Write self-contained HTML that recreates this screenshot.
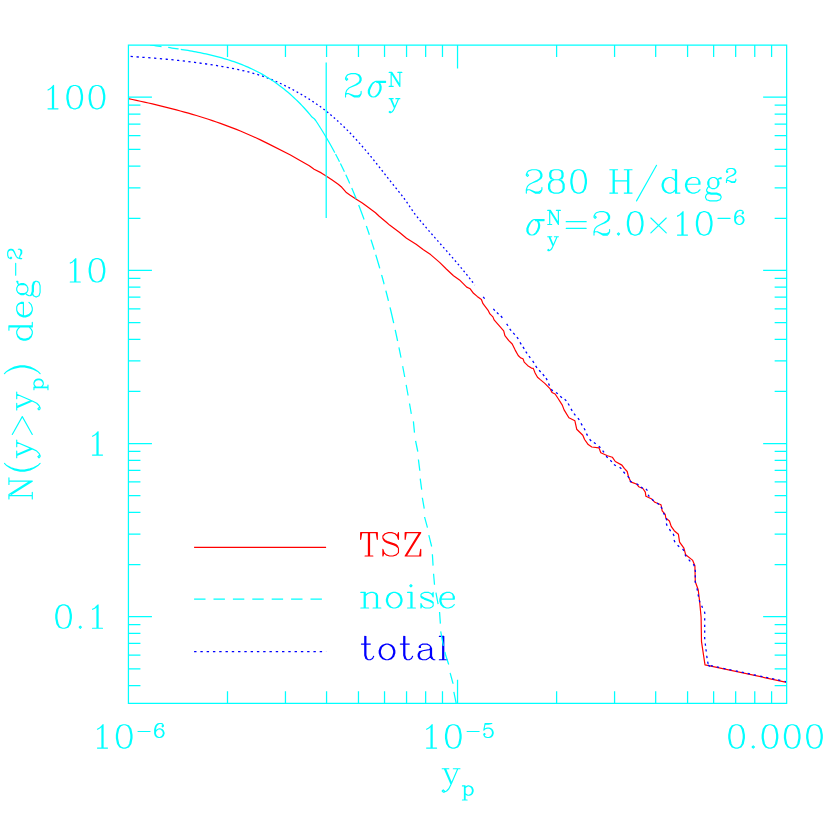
<!DOCTYPE html><html><head><meta charset="utf-8"><title>N(y&gt;yp)</title><style>html,body{margin:0;padding:0;background:#fff;overflow:hidden;width:830px;height:830px;font-family:"Liberation Sans",sans-serif}svg{display:block}</style></head><body>
<svg width="830" height="830" viewBox="0 0 830 830" fill="none" stroke-linecap="round" stroke-linejoin="round">
<rect x="0" y="0" width="830" height="830" fill="#fff" stroke="none"/>
<clipPath id="c"><rect x="128.43" y="45.1" width="658.22" height="658.1999999999999"/></clipPath>
<g clip-path="url(#c)" stroke-linecap="butt">
<path d="M128.4 98.61 L132.4 99.47 L136.4 100.35 L140.4 101.23 L144.4 102.12 L148.4 103.03 L152.4 103.95 L156.4 104.89 L160.4 105.85 L164.4 106.83 L168.4 107.83 L172.4 108.85 L176.4 109.9 L180.4 110.97 L184.4 112.07 L188.4 113.19 L192.4 114.35 L196.4 115.54 L200.4 116.76 L204.4 118.01 L208.4 119.3 L212.4 120.62 L216.4 121.99 L220.4 123.39 L224.4 124.83 L228.4 126.32 L232.4 127.85 L236.4 129.43 L240.4 131.05 L244.4 132.72 L248.4 134.44 L252.4 136.21 L256.4 138.04 L260.4 139.91 L264.4 141.85 L268 143.64 L290 154.8 L299.6 160.2 L309.3 165.7 L314.1 169.3 L321.3 172.9 L326.1 175.9 L332.2 180.1 L338.2 184.3 L341.8 187.3 L346 192.2 L350.2 195.2 L356.3 199.2 L362.3 203 L367.1 206.6 L375.5 212.7 L379.2 216.3 L386.4 222.3 L389.6 225.1 L399.3 232.3 L406.5 238.3 L416.1 244.3 L423.4 249.8 L430.6 254.6 L439.6 262.4 L446.3 269 L453.5 275.7 L459.5 279.9 L466.7 287.1 L470.2 288.8 L473.5 293.3 L477.2 296.4 L481.4 299.5 L483 303.7 L488.1 310.3 L489.9 313.9 L492.9 316.9 L494.1 319.9 L498.9 325.4 L503.7 330.8 L504.9 335.6 L508.6 340.4 L512.2 344 L515.2 350.1 L518.2 355.5 L520.6 357.9 L523 358.7 L524.2 362.1 L527.8 365.7 L531.4 368.1 L533.3 368.4 L535.1 373 L537.5 377.2 L540 379.4 L544.8 383.4 L550.2 388.9 L552 392.5 L555.1 394 L558.1 398.5 L562.3 405.1 L564.1 409.9 L568.9 417.8 L574.9 420.8 L576.7 429.2 L582.8 435.2 L584.6 439.5 L588.2 444.6 L591.8 447 L599 447.9 L600.8 452.7 L607.5 455.7 L612.3 457.2 L615.3 461.5 L621.9 465.1 L624.3 468.4 L627.2 471.5 L628.4 476.4 L630.8 481.9 L636.9 484.3 L638.7 486.7 L642.9 488.5 L645.3 492.1 L645.9 496.3 L651.3 498.7 L654.9 502.3 L661 504.8 L662.2 510.8 L665.2 514.4 L665.8 518 L669.4 521 L671.2 526.4 L674.2 530.7 L678.4 534.3 L679.6 542.1 L683.9 548.1 L685.7 554.8 L692.5 560.1 L694.9 565.8 L695.3 581.7 L698.2 589.7 L699.6 601.3 L701.1 617.2 L701.5 641.7 L705 664.9 L786.6 682.3" stroke="#ff0000" stroke-width="1.2" stroke-linejoin="round"/><path d="M130.6 56.46 L132.9 56.61M136.49 56.86 L138.6 57 L138.79 57.01M142.37 57.27 L142.6 57.29 L144.65 57.44M148.22 57.71 L150.5 57.88M154.05 58.17 L154.6 58.21 L156.32 58.35M159.86 58.65 L162.11 58.85M165.63 59.17 L166.6 59.26 L167.87 59.38M171.37 59.72 L173.6 59.94M177.08 60.3 L178.6 60.46 L179.3 60.53M182.76 60.91 L184.96 61.16M188.39 61.57 L190.58 61.83M193.99 62.26 L194.6 62.33 L196.16 62.54M199.55 62.99 L201.7 63.29M205.07 63.76 L206.6 63.99 L207.2 64.08M210.54 64.58 L210.6 64.59 L212.66 64.91M215.97 65.44 L218.07 65.79M221.35 66.35 L222.6 66.56 L223.44 66.71M226.69 67.3 L228.76 67.68M231.98 68.3 L234.03 68.7M237.21 69.36 L238.6 69.65 L239.23 69.79M242.37 70.49 L242.6 70.54 L244.35 70.96M247.43 71.71 L249.38 72.22M252.4 73.03 L254.32 73.57M257.27 74.46 L258.6 74.86 L259.14 75.04M262.04 75.98 L262.6 76.17 L263.85 76.62M266.68 77.63 L268.45 78.31M271.21 79.39 L272.94 80.11M275.63 81.26 L277.32 82.02M279.96 83.22 L281.63 84M284.21 85.26 L285.85 86.07M288.4 87.36 L290.02 88.19M292.53 89.52 L294.13 90.37M296.61 91.73 L298.18 92.61M300.63 94 L302.19 94.89M304.6 96.32 L306.13 97.24M308.5 98.71 L310 99.66M312.33 101.17 L313.81 102.14M316.09 103.7 L317.54 104.7M319.78 106.3 L321.2 107.33M323.4 108.97 L324.78 110.04M326.93 111.73 L328.28 112.83M330.4 114.55 L330.6 114.72 L331.72 115.68M333.78 117.46 L334.6 118.16 L335.09 118.6M337.11 120.42 L338.39 121.59M340.37 123.45 L341.63 124.64M343.59 126.52 L344.82 127.73M346.76 129.64 L347.97 130.88M349.87 132.82 L350.6 133.57 L351.07 134.07M352.93 136.05 L354.12 137.31M355.96 139.31 L357.13 140.59M358.96 142.6 L360.11 143.9M361.91 145.94 L362.6 146.73 L363.05 147.25M364.82 149.32 L365.95 150.64M367.71 152.72 L368.82 154.06M370.57 156.15 L370.6 156.19 L371.67 157.5M373.39 159.62 L374.48 160.98M376.18 163.12 L377.27 164.48M378.96 166.63 L380.04 168M381.73 170.15 L382.6 171.26 L382.8 171.53M384.49 173.68 L385.56 175.05M387.25 177.21 L388.33 178.58M390.03 180.72 L390.6 181.45 L391.11 182.09M392.82 184.22 L393.91 185.58M395.63 187.7 L396.73 189.05M398.46 191.16 L398.6 191.34 L399.54 192.53M401.24 194.67 L402.32 196.04M403.95 198.25 L404.99 199.66M406.61 201.88 L407.59 203.35M409.12 205.66 L410.1 207.13M411.66 209.41 L412.66 210.86M414.23 213.12 L414.6 213.65 L415.29 214.52M416.99 216.66 L418.07 218.02M419.81 220.13 L420.93 221.46M422.69 223.54 L423.82 224.86M425.59 226.93 L426.6 228.12 L426.72 228.25M428.5 230.31 L429.63 231.63M431.42 233.68 L432.56 234.99M434.35 237.04 L434.6 237.32 L435.5 238.34M437.29 240.39 L438.44 241.69M440.24 243.73 L441.39 245.03M443.19 247.07 L444.34 248.37M446.14 250.41 L446.6 250.93 L447.29 251.71M449.08 253.76 L450.23 255.06M452.01 257.12 L453.15 258.43M454.93 260.49 L456.06 261.81M457.83 263.88 L458.6 264.78 L458.96 265.2M460.71 267.29 L461.82 268.63M463.56 270.73 L464.66 272.08M466.38 274.2 L466.6 274.46 L467.47 275.56M469.17 277.7 L470.25 279.07M471.92 281.24 L472.99 282.62M474.65 284.8 L474.8 285M483.16 296.82L484.64 298.58M493.34 308.84L494.86 310.56M496.87 312.5L498.53 314.1M500.86 316.02L502.34 317.78M506.65 323.85L507.95 325.75M509.71 328.88L511.09 330.72M513.24 332.94L514.76 334.66M516.95 337.05L518.25 338.95M520 342.42L521.2 344.38M522.98 346.93L524.22 348.87M525.77 351.54L527.03 353.46M528.92 356.07L530.28 357.93M532.66 360.95L533.94 362.85M535.63 365.97L536.97 367.83M539.14 370.24L540.66 371.96M542.77 374.21L544.23 375.99M546.02 378.2L547.18 380.2M548.49 383.57L549.51 385.63M551.22 389.26L552.78 390.94M555.98 392.41L557.82 393.79M560.21 396.17L561.99 397.63M564.69 399.29L566.31 400.91M568.09 403.52L569.31 405.48M571.01 408.91L572.19 410.89M574 413.59L575.4 415.41M577.94 418.06L579.26 419.94M581.02 423.41L582.18 425.39M584.06 428.18L585.14 430.22M586.46 433.58L587.54 435.62M589.62 439.25L591.18 440.95M593.88 442.41L595.72 443.79M598.78 446.19L600.42 447.81M602.62 450.57L603.98 452.43M606.17 456.01L607.63 457.79M610.3 460.28L611.9 461.92M613.97 464.42L615.83 465.78M619.6 467.28L621.4 468.72M623.44 471.74L624.96 473.46M627.72 476.07L629.08 477.93M629.9 480.88L631.7 482.32M636.49 483.75L638.51 484.85M640.91 487.12L642.89 488.28M645.96 488.82L647.44 490.58M648.11 494.71L649.29 496.69M651.93 499.14L653.67 500.66M657.14 503.03L658.86 504.57M661.01 506.81L662.19 508.79M663.55 512.74L664.45 514.86M666.12 518.08L666.68 520.32M666.34 523.51L667.06 525.69M669.36 529.14L670.64 531.06M673.16 533.84L674.04 535.96M674.04 540.04L674.96 542.16M677.59 545.19L679.21 546.81M682.61 548.98L683.99 550.82M684.92 554.51L686.08 556.49M688.74 559.63L690.26 561.37M693.34 564.1L694.46 566.1M695.16 569.76L695.44 572.04M695.3 575.25L695.3 577.55M695.13 580.56L695.47 582.84M696.96 588.28L697.44 590.52M698.07 594.37L698.53 596.63M699.23 600.21L699.97 602.39M701.63 605.75L702.57 607.85M704.47 611.67L704.93 613.93M704.7 618.15L704.7 620.45M704.7 624.65L704.7 626.95M704.7 630.45L704.7 632.75M704.64 636.95L704.76 639.25M705.27 643.46L705.53 645.74M705.96 649.26L706.24 651.54M706.73 655.76L707.07 658.04M707.63 661.58L708.17 663.82M708.1 664.99L709.9 666.41M710.76 665.69L713.04 666.06M716.78 666.91L719.02 667.39M723.28 668.3L725.52 668.78M729.28 669.58L731.52 670.06M735.78 670.96L738.02 671.44M741.68 672.22L743.92 672.7M747.68 673.5L749.92 673.98M753.68 674.78L755.92 675.26M760.18 676.17L762.42 676.64M766.08 677.42L768.32 677.9M772.08 678.7L774.32 679.18M778.08 679.98L780.32 680.46M784.58 681.37L786.82 681.85" stroke="#0000ff" stroke-width="1.3"/>
</g>
<path d="M128.43 45.1H786.65V703.3H128.43ZM227.5 45.1v12M227.5 703.3v-12M285.46 45.1v12M285.46 703.3v-12M326.57 45.1v12M326.57 703.3v-12M358.47 45.1v12M358.47 703.3v-12M384.53 45.1v12M384.53 703.3v-12M406.56 45.1v12M406.56 703.3v-12M425.65 45.1v12M425.65 703.3v-12M442.48 45.1v12M442.48 703.3v-12M457.54 45.1v23.5M457.54 703.3v-23.5M556.61 45.1v12M556.61 703.3v-12M614.57 45.1v12M614.57 703.3v-12M655.68 45.1v12M655.68 703.3v-12M687.58 45.1v12M687.58 703.3v-12M713.64 45.1v12M713.64 703.3v-12M735.67 45.1v12M735.67 703.3v-12M754.76 45.1v12M754.76 703.3v-12M771.59 45.1v12M771.59 703.3v-12M128.43 685.58h12M786.65 685.58h-12M128.43 668.8h12M786.65 668.8h-12M128.43 655.09h12M786.65 655.09h-12M128.43 643.49h12M786.65 643.49h-12M128.43 633.45h12M786.65 633.45h-12M128.43 624.6h12M786.65 624.6h-12M128.43 616.67h23.5M786.65 616.67h-23.5M128.43 564.55h12M786.65 564.55h-12M128.43 534.06h12M786.65 534.06h-12M128.43 512.43h12M786.65 512.43h-12M128.43 495.65h12M786.65 495.65h-12M128.43 481.94h12M786.65 481.94h-12M128.43 470.34h12M786.65 470.34h-12M128.43 460.3h12M786.65 460.3h-12M128.43 451.45h12M786.65 451.45h-12M128.43 443.52h23.5M786.65 443.52h-23.5M128.43 391.4h12M786.65 391.4h-12M128.43 360.91h12M786.65 360.91h-12M128.43 339.28h12M786.65 339.28h-12M128.43 322.5h12M786.65 322.5h-12M128.43 308.79h12M786.65 308.79h-12M128.43 297.19h12M786.65 297.19h-12M128.43 287.15h12M786.65 287.15h-12M128.43 278.3h12M786.65 278.3h-12M128.43 270.37h23.5M786.65 270.37h-23.5M128.43 218.25h12M786.65 218.25h-12M128.43 187.76h12M786.65 187.76h-12M128.43 166.13h12M786.65 166.13h-12M128.43 149.35h12M786.65 149.35h-12M128.43 135.64h12M786.65 135.64h-12M128.43 124.04h12M786.65 124.04h-12M128.43 114h12M786.65 114h-12M128.43 105.15h12M786.65 105.15h-12M128.43 97.22h23.5M786.65 97.22h-23.5" stroke="#00ffff" stroke-width="1.25" stroke-linecap="butt" stroke-linejoin="miter"/>
<path d="M326.2 62.4V218" stroke="#00ffff" stroke-width="1.25" stroke-linecap="butt"/>
<path transform="translate(108.1 108.82) translate(-66.78 0)" d="M6.68 -18.92 L8.9 -20.03 L11.13 -22.26 L11.13 0 L6.68 0M11.13 -22.26 L12.24 -23.37 L12.24 0 L11.13 0M12.24 0 L16.7 0M32.28 -23.37 L28.94 -22.26 L26.71 -18.92 L25.6 -13.36 L25.6 -10.02 L26.71 -4.45 L28.94 -1.11 L32.28 0 L30.05 -1.11 L28.94 -2.23 L27.82 -4.45 L26.71 -10.02 L26.71 -13.36 L27.82 -18.92 L28.94 -21.15 L30.05 -22.26 L32.28 -23.37 L34.5 -23.37 L36.73 -22.26 L37.84 -21.15 L38.95 -18.92 L40.07 -13.36 L40.07 -10.02 L38.95 -4.45 L37.84 -2.23 L36.73 -1.11 L34.5 0 L32.28 0M34.5 -23.37 L37.84 -22.26 L40.07 -18.92 L41.18 -13.36 L41.18 -10.02 L40.07 -4.45 L37.84 -1.11 L34.5 0M54.54 -23.37 L51.2 -22.26 L48.97 -18.92 L47.86 -13.36 L47.86 -10.02 L48.97 -4.45 L51.2 -1.11 L54.54 0 L52.31 -1.11 L51.2 -2.23 L50.08 -4.45 L48.97 -10.02 L48.97 -13.36 L50.08 -18.92 L51.2 -21.15 L52.31 -22.26 L54.54 -23.37 L56.76 -23.37 L58.99 -22.26 L60.1 -21.15 L61.21 -18.92 L62.33 -13.36 L62.33 -10.02 L61.21 -4.45 L60.1 -2.23 L58.99 -1.11 L56.76 0 L54.54 0M56.76 -23.37 L60.1 -22.26 L62.33 -18.92 L63.44 -13.36 L63.44 -10.02 L62.33 -4.45 L60.1 -1.11 L56.76 0" stroke="#00ffff" stroke-width="1.15"/>
<path transform="translate(108.1 281.97) translate(-44.52 0)" d="M6.68 -18.92 L8.9 -20.03 L11.13 -22.26 L11.13 0 L6.68 0M11.13 -22.26 L12.24 -23.37 L12.24 0 L11.13 0M12.24 0 L16.7 0M32.28 -23.37 L28.94 -22.26 L26.71 -18.92 L25.6 -13.36 L25.6 -10.02 L26.71 -4.45 L28.94 -1.11 L32.28 0 L30.05 -1.11 L28.94 -2.23 L27.82 -4.45 L26.71 -10.02 L26.71 -13.36 L27.82 -18.92 L28.94 -21.15 L30.05 -22.26 L32.28 -23.37 L34.5 -23.37 L36.73 -22.26 L37.84 -21.15 L38.95 -18.92 L40.07 -13.36 L40.07 -10.02 L38.95 -4.45 L37.84 -2.23 L36.73 -1.11 L34.5 0 L32.28 0M34.5 -23.37 L37.84 -22.26 L40.07 -18.92 L41.18 -13.36 L41.18 -10.02 L40.07 -4.45 L37.84 -1.11 L34.5 0" stroke="#00ffff" stroke-width="1.15"/>
<path transform="translate(108.1 455.12) translate(-22.26 0)" d="M6.68 -18.92 L8.9 -20.03 L11.13 -22.26 L11.13 0 L6.68 0M11.13 -22.26 L12.24 -23.37 L12.24 0 L11.13 0M12.24 0 L16.7 0" stroke="#00ffff" stroke-width="1.15"/>
<path transform="translate(108.1 628.27) translate(-55.65 0)" d="M10.02 -23.37 L6.68 -22.26 L4.45 -18.92 L3.34 -13.36 L3.34 -10.02 L4.45 -4.45 L6.68 -1.11 L10.02 0 L7.79 -1.11 L6.68 -2.23 L5.56 -4.45 L4.45 -10.02 L4.45 -13.36 L5.56 -18.92 L6.68 -21.15 L7.79 -22.26 L10.02 -23.37 L12.24 -23.37 L14.47 -22.26 L15.58 -21.15 L16.7 -18.92 L17.81 -13.36 L17.81 -10.02 L16.7 -4.45 L15.58 -2.23 L14.47 -1.11 L12.24 0 L10.02 0M12.24 -23.37 L15.58 -22.26 L17.81 -18.92 L18.92 -13.36 L18.92 -10.02 L17.81 -4.45 L15.58 -1.11 L12.24 0M26.71 -1.11 L27.82 -2.23 L28.94 -1.11 L27.82 0 L26.71 -1.11M40.07 -18.92 L42.29 -20.03 L44.52 -22.26 L44.52 0 L40.07 0M44.52 -22.26 L45.63 -23.37 L45.63 0 L44.52 0M45.63 0 L50.09 0" stroke="#00ffff" stroke-width="1.15"/>
<path transform="translate(128.43 748.1) translate(-37.62 0)" d="M6.68 -18.92 L8.9 -20.03 L11.13 -22.26 L11.13 0 L6.68 0M11.13 -22.26 L12.24 -23.37 L12.24 0 L11.13 0M12.24 0 L16.7 0M32.28 -23.37 L28.94 -22.26 L26.71 -18.92 L25.6 -13.36 L25.6 -10.02 L26.71 -4.45 L28.94 -1.11 L32.28 0 L30.05 -1.11 L28.94 -2.23 L27.82 -4.45 L26.71 -10.02 L26.71 -13.36 L27.82 -18.92 L28.94 -21.15 L30.05 -22.26 L32.28 -23.37 L34.5 -23.37 L36.73 -22.26 L37.84 -21.15 L38.95 -18.92 L40.07 -13.36 L40.07 -10.02 L38.95 -4.45 L37.84 -2.23 L36.73 -1.11 L34.5 0 L32.28 0M34.5 -23.37 L37.84 -22.26 L40.07 -18.92 L41.18 -13.36 L41.18 -10.02 L40.07 -4.45 L37.84 -1.11 L34.5 0M47.19 -16.61 L59.21 -16.61M64.55 -15.27 L64.55 -18.61 L65.22 -21.28 L65.89 -22.62 L67.23 -23.96 L68.56 -24.62 L66.56 -23.96 L65.22 -22.62 L64.55 -21.28 L63.89 -18.61 L63.89 -14.61 L64.55 -12.6 L65.89 -11.27 L67.89 -10.6 L66.56 -11.27 L65.22 -12.6 L64.55 -14.61 L64.55 -15.27 L65.22 -17.28 L66.56 -18.61 L68.56 -19.28 L69.23 -19.28 L70.56 -18.61 L71.9 -17.28 L72.57 -15.27 L72.57 -14.61 L71.9 -12.6 L70.56 -11.27 L69.23 -10.6 L67.89 -10.6M68.56 -24.62 L70.56 -24.62 L71.9 -23.96 L72.57 -22.62 L72.57 -21.95 L71.9 -21.28 L71.23 -21.95 L71.9 -22.62M69.23 -19.28 L71.23 -18.61 L72.57 -17.28 L73.24 -15.27 L73.24 -14.61 L72.57 -12.6 L71.23 -11.27 L69.23 -10.6" stroke="#00ffff" stroke-width="1.15"/>
<path transform="translate(457.54 748.1) translate(-37.62 0)" d="M6.68 -18.92 L8.9 -20.03 L11.13 -22.26 L11.13 0 L6.68 0M11.13 -22.26 L12.24 -23.37 L12.24 0 L11.13 0M12.24 0 L16.7 0M32.28 -23.37 L28.94 -22.26 L26.71 -18.92 L25.6 -13.36 L25.6 -10.02 L26.71 -4.45 L28.94 -1.11 L32.28 0 L30.05 -1.11 L28.94 -2.23 L27.82 -4.45 L26.71 -10.02 L26.71 -13.36 L27.82 -18.92 L28.94 -21.15 L30.05 -22.26 L32.28 -23.37 L34.5 -23.37 L36.73 -22.26 L37.84 -21.15 L38.95 -18.92 L40.07 -13.36 L40.07 -10.02 L38.95 -4.45 L37.84 -2.23 L36.73 -1.11 L34.5 0 L32.28 0M34.5 -23.37 L37.84 -22.26 L40.07 -18.92 L41.18 -13.36 L41.18 -10.02 L40.07 -4.45 L37.84 -1.11 L34.5 0M47.19 -16.61 L59.21 -16.61M64.55 -13.27 L65.22 -13.94 L64.55 -14.61 L63.89 -13.94 L63.89 -13.27 L64.55 -11.94 L65.22 -11.27 L67.23 -10.6 L69.23 -10.6 L70.56 -11.27 L71.9 -12.6 L72.57 -14.61 L72.57 -15.94 L71.9 -17.95 L70.56 -19.28 L69.23 -19.95 L67.23 -19.95 L65.22 -19.28 L63.89 -17.95 L65.22 -24.62 L71.9 -24.62 L68.56 -23.96 L65.22 -23.96M69.23 -19.95 L71.23 -19.28 L72.57 -17.95 L73.24 -15.94 L73.24 -14.61 L72.57 -12.6 L71.23 -11.27 L69.23 -10.6" stroke="#00ffff" stroke-width="1.15"/>
<path transform="translate(786.65 748.1) translate(-61.21 0)" d="M10.02 -23.37 L6.68 -22.26 L4.45 -18.92 L3.34 -13.36 L3.34 -10.02 L4.45 -4.45 L6.68 -1.11 L10.02 0 L7.79 -1.11 L6.68 -2.23 L5.56 -4.45 L4.45 -10.02 L4.45 -13.36 L5.56 -18.92 L6.68 -21.15 L7.79 -22.26 L10.02 -23.37 L12.24 -23.37 L14.47 -22.26 L15.58 -21.15 L16.7 -18.92 L17.81 -13.36 L17.81 -10.02 L16.7 -4.45 L15.58 -2.23 L14.47 -1.11 L12.24 0 L10.02 0M12.24 -23.37 L15.58 -22.26 L17.81 -18.92 L18.92 -13.36 L18.92 -10.02 L17.81 -4.45 L15.58 -1.11 L12.24 0M26.71 -1.11 L27.82 -2.23 L28.94 -1.11 L27.82 0 L26.71 -1.11M43.41 -23.37 L40.07 -22.26 L37.84 -18.92 L36.73 -13.36 L36.73 -10.02 L37.84 -4.45 L40.07 -1.11 L43.41 0 L41.18 -1.11 L40.07 -2.23 L38.95 -4.45 L37.84 -10.02 L37.84 -13.36 L38.95 -18.92 L40.07 -21.15 L41.18 -22.26 L43.41 -23.37 L45.63 -23.37 L47.86 -22.26 L48.97 -21.15 L50.09 -18.92 L51.2 -13.36 L51.2 -10.02 L50.09 -4.45 L48.97 -2.23 L47.86 -1.11 L45.63 0 L43.41 0M45.63 -23.37 L48.97 -22.26 L51.2 -18.92 L52.31 -13.36 L52.31 -10.02 L51.2 -4.45 L48.97 -1.11 L45.63 0M65.67 -23.37 L62.33 -22.26 L60.1 -18.92 L58.99 -13.36 L58.99 -10.02 L60.1 -4.45 L62.33 -1.11 L65.67 0 L63.44 -1.11 L62.33 -2.23 L61.21 -4.45 L60.1 -10.02 L60.1 -13.36 L61.21 -18.92 L62.33 -21.15 L63.44 -22.26 L65.67 -23.37 L67.89 -23.37 L70.12 -22.26 L71.23 -21.15 L72.34 -18.92 L73.46 -13.36 L73.46 -10.02 L72.34 -4.45 L71.23 -2.23 L70.12 -1.11 L67.89 0 L65.67 0M67.89 -23.37 L71.23 -22.26 L73.46 -18.92 L74.57 -13.36 L74.57 -10.02 L73.46 -4.45 L71.23 -1.11 L67.89 0M87.93 -23.37 L84.59 -22.26 L82.36 -18.92 L81.25 -13.36 L81.25 -10.02 L82.36 -4.45 L84.59 -1.11 L87.93 0 L85.7 -1.11 L84.59 -2.23 L83.47 -4.45 L82.36 -10.02 L82.36 -13.36 L83.47 -18.92 L84.59 -21.15 L85.7 -22.26 L87.93 -23.37 L90.15 -23.37 L92.38 -22.26 L93.49 -21.15 L94.6 -18.92 L95.72 -13.36 L95.72 -10.02 L94.6 -4.45 L93.49 -2.23 L92.38 -1.11 L90.15 0 L87.93 0M90.15 -23.37 L93.49 -22.26 L95.72 -18.92 L96.83 -13.36 L96.83 -10.02 L95.72 -4.45 L93.49 -1.11 L90.15 0M106.85 -18.92 L109.07 -20.03 L111.3 -22.26 L111.3 0 L106.85 0M111.3 -22.26 L112.41 -23.37 L112.41 0 L111.3 0M112.41 0 L116.86 0" stroke="#00ffff" stroke-width="1.15"/>
<path transform="translate(457.54 784.3) translate(-17.59 0)" d="M2.23 -15.58 L8.9 -15.58M4.45 -15.58 L11.13 0 L8.9 4.45 L6.68 6.68 L4.45 7.79 L3.34 7.79 L2.23 6.68 L3.34 5.56 L4.45 6.68M5.56 -15.58 L11.13 -2.23M11.13 0 L17.81 -15.58 L13.36 -15.58M17.81 -15.58 L20.03 -15.58M22.48 1.65 L24.49 1.65 L24.49 15.67 L22.48 15.67M24.49 1.65 L25.15 1.65 L25.15 15.67 L24.49 15.67M25.15 15.67 L27.16 15.67M25.15 3.65 L26.49 2.32 L27.82 1.65 L29.16 1.65 L30.5 2.32 L31.83 3.65 L32.5 5.66 L32.5 6.99 L31.83 9 L30.5 10.33 L29.16 11 L27.82 11 L26.49 10.33 L25.15 9M29.16 1.65 L31.16 2.32 L32.5 3.65 L33.17 5.66 L33.17 6.99 L32.5 9 L31.16 10.33 L29.16 11" stroke="#00ffff" stroke-width="1.15"/>
<path transform="translate(32.3 374.2) rotate(-90) translate(-126.99 0)" d="M2.23 -23.37 L5.56 -23.37 L5.56 0 L2.23 0M5.56 -23.37 L6.68 -23.37 L20.03 -2.23 L20.03 -23.37 L16.7 -23.37M5.56 0 L8.9 0M20.03 -2.23 L20.03 0 L6.68 -21.15M20.03 -23.37 L23.37 -23.37M35.62 -25.6 L33.39 -22.26 L31.16 -17.81 L30.05 -12.24 L30.05 -7.79 L31.16 -2.23 L33.39 2.23 L35.62 5.56 L33.39 1.11 L32.28 -2.23 L31.16 -7.79 L31.16 -12.24 L32.28 -17.81 L33.39 -21.15 L35.62 -25.6 L37.84 -27.82M35.62 5.56 L37.84 7.79M43.41 -15.58 L50.08 -15.58M45.63 -15.58 L52.31 0 L50.08 4.45 L47.86 6.68 L45.63 7.79 L44.52 7.79 L43.41 6.68 L44.52 5.56 L45.63 6.68M46.75 -15.58 L52.31 -2.23M52.31 0 L58.99 -15.58 L54.54 -15.58M58.99 -15.58 L61.21 -15.58M66.78 -20.03 L84.59 -10.02 L66.78 0M91.27 -15.58 L97.94 -15.58M93.49 -15.58 L100.17 0 L97.94 4.45 L95.72 6.68 L93.49 7.79 L92.38 7.79 L91.27 6.68 L92.38 5.56 L93.49 6.68M94.6 -15.58 L100.17 -2.23M100.17 0 L106.85 -15.58 L102.4 -15.58M106.85 -15.58 L109.07 -15.58M111.52 1.65 L113.53 1.65 L113.53 15.67 L111.52 15.67M113.53 1.65 L114.19 1.65 L114.19 15.67 L113.53 15.67M114.19 15.67 L116.2 15.67M114.19 3.65 L115.53 2.32 L116.86 1.65 L118.2 1.65 L119.54 2.32 L120.87 3.65 L121.54 5.66 L121.54 6.99 L120.87 9 L119.54 10.33 L118.2 11 L116.86 11 L115.53 10.33 L114.19 9M118.2 1.65 L120.2 2.32 L121.54 3.65 L122.21 5.66 L122.21 6.99 L121.54 9 L120.2 10.33 L118.2 11M127.55 -27.82 L129.78 -25.6 L132 -21.15 L133.11 -17.81 L134.23 -12.24 L134.23 -7.79 L133.11 -2.23 L132 1.11 L129.78 5.56 L127.55 7.79M129.78 -25.6 L132 -22.26 L134.23 -17.81 L135.34 -12.24 L135.34 -7.79 L134.23 -2.23 L132 2.23 L129.78 5.56M167.62 -15.58 L164.28 -14.47 L162.05 -12.24 L160.94 -8.9 L160.94 -6.68 L162.05 -3.34 L164.28 -1.11 L167.62 0 L165.39 -1.11 L163.17 -3.34 L162.05 -6.68 L162.05 -8.9 L163.17 -12.24 L165.39 -14.47 L167.62 -15.58 L169.84 -15.58 L172.07 -14.47 L174.3 -12.24 L174.3 -23.37 L170.96 -23.37M167.62 0 L169.84 0 L172.07 -1.11 L174.3 -3.34 L174.3 -12.24M174.3 -23.37 L175.41 -23.37 L175.41 0 L174.3 0 L174.3 -3.34M175.41 0 L178.75 0M185.43 -8.9 L185.43 -6.68 L186.54 -3.34 L188.76 -1.11 L190.99 0 L187.65 -1.11 L185.43 -3.34 L184.31 -6.68 L184.31 -8.9 L185.43 -12.24 L187.65 -14.47 L190.99 -15.58 L188.76 -14.47 L186.54 -12.24 L185.43 -8.9 L197.67 -8.9 L197.67 -12.24 L196.56 -14.47 L194.33 -15.58 L190.99 -15.58M190.99 0 L193.22 0 L196.56 -1.11 L198.78 -3.34M196.56 -14.47 L197.67 -13.36 L198.78 -11.13 L198.78 -8.9 L197.67 -8.9M205.46 -2.23 L205.46 -3.34 L206.57 -5.56 L207.69 -6.68 L206.57 -8.9 L206.57 -11.13 L207.69 -13.36 L208.8 -14.47 L207.69 -12.24 L207.69 -7.79 L208.8 -5.56 L207.69 -6.68M205.46 -2.23 L206.57 -1.11 L209.91 0 L215.48 0 L218.82 1.11 L219.93 3.34 L218.82 2.23 L215.48 1.11 L209.91 1.11 L206.57 0 L205.46 -2.23M208.8 0 L205.46 1.11 L204.35 3.34 L204.35 4.45 L205.46 6.68 L208.8 7.79 L215.48 7.79 L218.82 6.68 L219.93 4.45 L219.93 3.34M208.8 -14.47 L211.02 -15.58 L213.25 -15.58 L215.48 -14.47 L216.59 -13.36 L217.7 -14.47 L219.93 -14.47 L219.93 -15.58 L217.7 -14.47M208.8 -5.56 L211.02 -4.45 L213.25 -4.45 L215.48 -5.56 L216.59 -7.79 L216.59 -12.24 L215.48 -14.47M215.48 -5.56 L216.59 -6.68 L217.7 -8.9 L217.7 -11.13 L216.59 -13.36M225.94 -16.61 L237.96 -16.61M242.63 -11.94 L242.63 -12.6 L243.3 -14.61 L244.64 -15.94 L248.64 -17.95 L250.65 -19.28 L251.32 -20.62 L251.32 -21.95 L250.65 -23.29 L249.98 -23.96 L248.64 -24.62 L245.97 -24.62 L243.97 -23.96 L243.3 -23.29 L242.63 -21.95 L242.63 -21.28 L243.3 -20.62 L243.97 -21.28 L243.3 -21.95M242.63 -11.94 L242.63 -10.6M242.63 -11.94 L243.3 -12.6 L244.64 -12.6 L247.98 -11.27 L249.98 -11.27 L251.32 -11.94 L251.98 -12.6 L251.32 -11.27 L250.65 -10.6 L247.98 -10.6 L244.64 -12.6M245.97 -16.61 L249.31 -17.95 L251.32 -19.28 L251.98 -20.62 L251.98 -21.95 L251.32 -23.29 L250.65 -23.96 L248.64 -24.62M251.98 -12.6 L251.98 -13.94" stroke="#00ffff" stroke-width="1.15"/>
<path transform="translate(342.2 97) translate(0 0)" d="M3.34 -2.23 L3.34 -3.34 L4.45 -6.68 L6.68 -8.9 L13.36 -12.24 L16.7 -14.47 L17.81 -16.7 L17.81 -18.92 L16.7 -21.15 L15.58 -22.26 L13.36 -23.37 L8.9 -23.37 L5.56 -22.26 L4.45 -21.15 L3.34 -18.92 L3.34 -17.81 L4.45 -16.7 L5.56 -17.81 L4.45 -18.92M3.34 -2.23 L3.34 0M3.34 -2.23 L4.45 -3.34 L6.68 -3.34 L12.24 -1.11 L15.58 -1.11 L17.81 -2.23 L18.92 -3.34 L17.81 -1.11 L16.7 0 L12.24 0 L6.68 -3.34M8.9 -10.02 L14.47 -12.24 L17.81 -14.47 L18.92 -16.7 L18.92 -18.92 L17.81 -21.15 L16.7 -22.26 L13.36 -23.37M18.92 -3.34 L18.92 -5.56M43.41 -15.58 L33.39 -15.58 L31.16 -14.47 L28.94 -12.24 L27.27 -9.46 L26.16 -6.68 L26.16 -3.9 L27.27 -1.67 L28.94 -0.33 L31.16 0 L33.39 -0.33 L35.62 -1.89 L37.51 -4.45 L38.73 -7.23 L38.95 -10.02 L38.4 -12.24 L37.29 -14.14 L36.17 -15.03M32.28 -15.03 L30.05 -12.8 L28.38 -9.46 L27.27 -6.68 L27.27 -3.9 L28.16 -1.67 L29.49 -0.56M32.83 -0.33 L35.06 -2.23 L36.73 -5.01 L37.73 -7.79 L37.84 -10.57 L37.29 -12.8 L36.17 -14.47M34.5 -14.47 L43.41 -14.47M46.97 -24.62 L48.97 -24.62 L48.97 -10.6 L46.97 -10.6M48.97 -24.62 L49.64 -24.62 L57.65 -11.94 L57.65 -24.62 L55.65 -24.62M48.97 -10.6 L50.98 -10.6M57.65 -11.94 L57.65 -10.6 L49.64 -23.29M57.65 -24.62 L59.66 -24.62M46.97 1.65 L50.98 1.65M48.3 1.65 L52.31 11 L50.98 13.67 L49.64 15.01 L48.3 15.67 L47.64 15.67 L46.97 15.01 L47.64 14.34 L48.3 15.01M48.97 1.65 L52.31 9.66M52.31 11 L56.32 1.65 L53.65 1.65M56.32 1.65 L57.65 1.65" stroke="#00ffff" stroke-width="1.15"/>
<path transform="translate(523 193.1) translate(0 0)" d="M3.34 -2.23 L3.34 -3.34 L4.45 -6.68 L6.68 -8.9 L13.36 -12.24 L16.7 -14.47 L17.81 -16.7 L17.81 -18.92 L16.7 -21.15 L15.58 -22.26 L13.36 -23.37 L8.9 -23.37 L5.56 -22.26 L4.45 -21.15 L3.34 -18.92 L3.34 -17.81 L4.45 -16.7 L5.56 -17.81 L4.45 -18.92M3.34 -2.23 L3.34 0M3.34 -2.23 L4.45 -3.34 L6.68 -3.34 L12.24 -1.11 L15.58 -1.11 L17.81 -2.23 L18.92 -3.34 L17.81 -1.11 L16.7 0 L12.24 0 L6.68 -3.34M8.9 -10.02 L14.47 -12.24 L17.81 -14.47 L18.92 -16.7 L18.92 -18.92 L17.81 -21.15 L16.7 -22.26 L13.36 -23.37M18.92 -3.34 L18.92 -5.56M31.16 -23.37 L27.82 -22.26 L26.71 -20.03 L26.71 -16.7 L27.82 -14.47 L31.16 -13.36 L27.82 -12.24 L26.71 -11.13 L25.6 -8.9 L25.6 -4.45 L26.71 -2.23 L27.82 -1.11 L31.16 0 L28.94 -1.11 L27.82 -2.23 L26.71 -4.45 L26.71 -8.9 L27.82 -11.13 L28.94 -12.24 L31.16 -13.36 L28.94 -14.47 L27.82 -16.7 L27.82 -20.03 L28.94 -22.26 L31.16 -23.37 L35.62 -23.37 L37.84 -22.26 L38.95 -20.03 L38.95 -16.7 L37.84 -14.47 L35.62 -13.36 L31.16 -13.36M31.16 0 L35.62 0 L37.84 -1.11 L38.95 -2.23 L40.07 -4.45 L40.07 -8.9 L38.95 -11.13 L37.84 -12.24 L35.62 -13.36 L38.95 -14.47 L40.07 -16.7 L40.07 -20.03 L38.95 -22.26 L35.62 -23.37M35.62 -13.36 L38.95 -12.24 L40.07 -11.13 L41.18 -8.9 L41.18 -4.45 L40.07 -2.23 L38.95 -1.11 L35.62 0M54.54 -23.37 L51.2 -22.26 L48.97 -18.92 L47.86 -13.36 L47.86 -10.02 L48.97 -4.45 L51.2 -1.11 L54.54 0 L52.31 -1.11 L51.2 -2.23 L50.08 -4.45 L48.97 -10.02 L48.97 -13.36 L50.08 -18.92 L51.2 -21.15 L52.31 -22.26 L54.54 -23.37 L56.76 -23.37 L58.99 -22.26 L60.1 -21.15 L61.21 -18.92 L62.33 -13.36 L62.33 -10.02 L61.21 -4.45 L60.1 -2.23 L58.99 -1.11 L56.76 0 L54.54 0M56.76 -23.37 L60.1 -22.26 L62.33 -18.92 L63.44 -13.36 L63.44 -10.02 L62.33 -4.45 L60.1 -1.11 L56.76 0M86.81 -23.37 L90.15 -23.37 L90.15 0 L86.81 0M90.15 -23.37 L91.27 -23.37 L91.27 0 L90.15 0M91.27 -23.37 L94.6 -23.37M91.27 0 L94.6 0M91.27 -12.24 L104.62 -12.24 L104.62 -23.37 L101.28 -23.37M101.28 0 L104.62 0 L104.62 -12.24M104.62 -23.37 L105.73 -23.37 L105.73 0 L104.62 0M105.73 -23.37 L109.07 -23.37M105.73 0 L109.07 0M113.53 7.79 L133.56 -27.82M145.8 -15.58 L142.46 -14.47 L140.24 -12.24 L139.12 -8.9 L139.12 -6.68 L140.24 -3.34 L142.46 -1.11 L145.8 0 L143.58 -1.11 L141.35 -3.34 L140.24 -6.68 L140.24 -8.9 L141.35 -12.24 L143.58 -14.47 L145.8 -15.58 L148.03 -15.58 L150.25 -14.47 L152.48 -12.24 L152.48 -23.37 L149.14 -23.37M145.8 0 L148.03 0 L150.25 -1.11 L152.48 -3.34 L152.48 -12.24M152.48 -23.37 L153.59 -23.37 L153.59 0 L152.48 0 L152.48 -3.34M153.59 0 L156.93 0M163.61 -8.9 L163.61 -6.68 L164.72 -3.34 L166.95 -1.11 L169.18 0 L165.84 -1.11 L163.61 -3.34 L162.5 -6.68 L162.5 -8.9 L163.61 -12.24 L165.84 -14.47 L169.18 -15.58 L166.95 -14.47 L164.72 -12.24 L163.61 -8.9 L175.85 -8.9 L175.85 -12.24 L174.74 -14.47 L172.51 -15.58 L169.18 -15.58M169.18 0 L171.4 0 L174.74 -1.11 L176.97 -3.34M174.74 -14.47 L175.85 -13.36 L176.97 -11.13 L176.97 -8.9 L175.85 -8.9M183.64 -2.23 L183.64 -3.34 L184.76 -5.56 L185.87 -6.68 L184.76 -8.9 L184.76 -11.13 L185.87 -13.36 L186.98 -14.47 L185.87 -12.24 L185.87 -7.79 L186.98 -5.56 L185.87 -6.68M183.64 -2.23 L184.76 -1.11 L188.1 0 L193.66 0 L197 1.11 L198.11 3.34 L197 2.23 L193.66 1.11 L188.1 1.11 L184.76 0 L183.64 -2.23M186.98 0 L183.64 1.11 L182.53 3.34 L182.53 4.45 L183.64 6.68 L186.98 7.79 L193.66 7.79 L197 6.68 L198.11 4.45 L198.11 3.34M186.98 -14.47 L189.21 -15.58 L191.44 -15.58 L193.66 -14.47 L194.77 -13.36 L195.89 -14.47 L198.11 -14.47 L198.11 -15.58 L195.89 -14.47M186.98 -5.56 L189.21 -4.45 L191.44 -4.45 L193.66 -5.56 L194.77 -7.79 L194.77 -12.24 L193.66 -14.47M193.66 -5.56 L194.77 -6.68 L195.89 -8.9 L195.89 -11.13 L194.77 -13.36M203.46 -11.94 L203.46 -12.6 L204.12 -14.61 L205.46 -15.94 L209.47 -17.95 L211.47 -19.28 L212.14 -20.62 L212.14 -21.95 L211.47 -23.29 L210.8 -23.96 L209.47 -24.62 L206.8 -24.62 L204.79 -23.96 L204.12 -23.29 L203.46 -21.95 L203.46 -21.28 L204.12 -20.62 L204.79 -21.28 L204.12 -21.95M203.46 -11.94 L203.46 -10.6M203.46 -11.94 L204.12 -12.6 L205.46 -12.6 L208.8 -11.27 L210.8 -11.27 L212.14 -11.94 L212.81 -12.6 L212.14 -11.27 L211.47 -10.6 L208.8 -10.6 L205.46 -12.6M206.8 -16.61 L210.13 -17.95 L212.14 -19.28 L212.81 -20.62 L212.81 -21.95 L212.14 -23.29 L211.47 -23.96 L209.47 -24.62M212.81 -12.6 L212.81 -13.94" stroke="#00ffff" stroke-width="1.15"/>
<path transform="translate(523 235.05) translate(0 0)" d="M21.15 -15.58 L11.13 -15.58 L8.9 -14.47 L6.68 -12.24 L5.01 -9.46 L3.9 -6.68 L3.9 -3.9 L5.01 -1.67 L6.68 -0.33 L8.9 0 L11.13 -0.33 L13.36 -1.89 L15.25 -4.45 L16.47 -7.23 L16.7 -10.02 L16.14 -12.24 L15.03 -14.14 L13.91 -15.03M10.02 -15.03 L7.79 -12.8 L6.12 -9.46 L5.01 -6.68 L5.01 -3.9 L5.9 -1.67 L7.23 -0.56M10.57 -0.33 L12.8 -2.23 L14.47 -5.01 L15.47 -7.79 L15.58 -10.57 L15.03 -12.8 L13.91 -14.47M12.24 -14.47 L21.15 -14.47M24.71 -24.62 L26.71 -24.62 L26.71 -10.6 L24.71 -10.6M26.71 -24.62 L27.38 -24.62 L35.39 -11.94 L35.39 -24.62 L33.39 -24.62M26.71 -10.6 L28.72 -10.6M35.39 -11.94 L35.39 -10.6 L27.38 -23.29M35.39 -24.62 L37.4 -24.62M24.71 1.65 L28.72 1.65M26.04 1.65 L30.05 11 L28.72 13.67 L27.38 15.01 L26.04 15.67 L25.38 15.67 L24.71 15.01 L25.38 14.34 L26.04 15.01M26.71 1.65 L30.05 9.66M30.05 11 L34.06 1.65 L31.39 1.65M34.06 1.65 L35.39 1.65M43.18 -13.36 L63.22 -13.36M43.18 -6.68 L63.22 -6.68M71.01 -2.23 L71.01 -3.34 L72.12 -6.68 L74.35 -8.9 L81.03 -12.24 L84.37 -14.47 L85.48 -16.7 L85.48 -18.92 L84.37 -21.15 L83.25 -22.26 L81.03 -23.37 L76.57 -23.37 L73.24 -22.26 L72.12 -21.15 L71.01 -18.92 L71.01 -17.81 L72.12 -16.7 L73.24 -17.81 L72.12 -18.92M71.01 -2.23 L71.01 0M71.01 -2.23 L72.12 -3.34 L74.35 -3.34 L79.91 -1.11 L83.25 -1.11 L85.48 -2.23 L86.59 -3.34 L85.48 -1.11 L84.37 0 L79.91 0 L74.35 -3.34M76.57 -10.02 L82.14 -12.24 L85.48 -14.47 L86.59 -16.7 L86.59 -18.92 L85.48 -21.15 L84.37 -22.26 L81.03 -23.37M86.59 -3.34 L86.59 -5.56M94.38 -1.11 L95.5 -2.23 L96.61 -1.11 L95.5 0 L94.38 -1.11M111.08 -23.37 L107.74 -22.26 L105.51 -18.92 L104.4 -13.36 L104.4 -10.02 L105.51 -4.45 L107.74 -1.11 L111.08 0 L108.85 -1.11 L107.74 -2.23 L106.63 -4.45 L105.51 -10.02 L105.51 -13.36 L106.63 -18.92 L107.74 -21.15 L108.85 -22.26 L111.08 -23.37 L113.3 -23.37 L115.53 -22.26 L116.64 -21.15 L117.76 -18.92 L118.87 -13.36 L118.87 -10.02 L117.76 -4.45 L116.64 -2.23 L115.53 -1.11 L113.3 0 L111.08 0M113.3 -23.37 L116.64 -22.26 L118.87 -18.92 L119.98 -13.36 L119.98 -10.02 L118.87 -4.45 L116.64 -1.11 L113.3 0M127.88 -17.03 L143.24 -2.11M143.24 -17.03 L127.88 -2.11M154.48 -18.92 L156.71 -20.03 L158.94 -22.26 L158.94 0 L154.48 0M158.94 -22.26 L160.05 -23.37 L160.05 0 L158.94 0M160.05 0 L164.5 0M180.08 -23.37 L176.74 -22.26 L174.52 -18.92 L173.41 -13.36 L173.41 -10.02 L174.52 -4.45 L176.74 -1.11 L180.08 0 L177.86 -1.11 L176.74 -2.23 L175.63 -4.45 L174.52 -10.02 L174.52 -13.36 L175.63 -18.92 L176.74 -21.15 L177.86 -22.26 L180.08 -23.37 L182.31 -23.37 L184.54 -22.26 L185.65 -21.15 L186.76 -18.92 L187.87 -13.36 L187.87 -10.02 L186.76 -4.45 L185.65 -2.23 L184.54 -1.11 L182.31 0 L180.08 0M182.31 -23.37 L185.65 -22.26 L187.87 -18.92 L188.99 -13.36 L188.99 -10.02 L187.87 -4.45 L185.65 -1.11 L182.31 0M195 -16.61 L207.02 -16.61M212.36 -15.27 L212.36 -18.61 L213.03 -21.28 L213.7 -22.62 L215.03 -23.96 L216.37 -24.62 L214.36 -23.96 L213.03 -22.62 L212.36 -21.28 L211.69 -18.61 L211.69 -14.61 L212.36 -12.6 L213.7 -11.27 L215.7 -10.6 L214.36 -11.27 L213.03 -12.6 L212.36 -14.61 L212.36 -15.27 L213.03 -17.28 L214.36 -18.61 L216.37 -19.28 L217.03 -19.28 L218.37 -18.61 L219.71 -17.28 L220.37 -15.27 L220.37 -14.61 L219.71 -12.6 L218.37 -11.27 L217.03 -10.6 L215.7 -10.6M216.37 -24.62 L218.37 -24.62 L219.71 -23.96 L220.37 -22.62 L220.37 -21.95 L219.71 -21.28 L219.04 -21.95 L219.71 -22.62M217.03 -19.28 L219.04 -18.61 L220.37 -17.28 L221.04 -15.27 L221.04 -14.61 L220.37 -12.6 L219.04 -11.27 L217.03 -10.6" stroke="#00ffff" stroke-width="1.15"/>
<path d="M194.1 547.4H326.1" stroke="#ff0000" stroke-width="1.25" stroke-linecap="butt"/>
<path d="M194.1 599.2H326.1" stroke="#00ffff" stroke-width="1.25" stroke-linecap="butt" stroke-dasharray="11.4 8"/>
<path d="M194.1 651.5H326.1" stroke="#0000ff" stroke-width="1.25" stroke-linecap="butt" stroke-dasharray="2.4 3.88"/>
<path transform="translate(358.4 556) translate(0 0)" d="M3.34 -23.37 L2.23 -23.37 L2.23 -16.7 L3.34 -23.37 L10.02 -23.37 L10.02 0 L6.68 0M10.02 -23.37 L11.13 -23.37 L11.13 0 L10.02 0M11.13 -23.37 L18.92 -23.37 L18.92 -16.7 L17.81 -23.37M11.13 0 L14.47 0M24.49 -17.81 L24.49 -20.03 L26.71 -22.26 L30.05 -23.37 L33.39 -23.37 L36.73 -22.26 L38.95 -20.03 L40.07 -23.37 L40.07 -16.7 L38.95 -20.03M24.49 -17.81 L26.71 -15.58 L28.94 -14.47 L35.62 -12.24 L37.84 -11.13 L38.95 -10.02 L40.07 -7.79 L37.84 -10.02 L35.62 -11.13 L28.94 -13.36 L26.71 -14.47 L25.6 -15.58 L24.49 -17.81M25.6 -3.34 L24.49 -6.68 L24.49 0 L25.6 -3.34 L27.82 -1.11 L31.16 0 L34.5 0 L37.84 -1.11 L40.07 -3.34 L40.07 -7.79M47.86 -23.37 L46.75 -23.37 L46.75 -16.7 L47.86 -23.37 L61.21 -23.37 L46.75 0 L61.21 0 L62.33 -6.68 L62.33 0 L61.21 0M47.86 0 L62.33 -23.37 L61.21 -23.37" stroke="#ff0000" stroke-width="1.15"/>
<path transform="translate(358.6 608) translate(0 0)" d="M2.23 -15.58 L5.56 -15.58 L5.56 0 L2.23 0M5.56 -15.58 L6.68 -15.58 L6.68 0 L5.56 0M6.68 0 L10.02 0M6.68 -12.24 L8.9 -14.47 L12.24 -15.58 L14.47 -15.58 L16.7 -14.47 L17.81 -12.24 L17.81 0 L14.47 0M14.47 -15.58 L17.81 -14.47 L18.92 -12.24 L18.92 0 L17.81 0M18.92 0 L22.26 0M34.5 -15.58 L31.16 -14.47 L28.94 -12.24 L27.82 -8.9 L27.82 -6.68 L28.94 -3.34 L31.16 -1.11 L34.5 0 L32.28 -1.11 L30.05 -3.34 L28.94 -6.68 L28.94 -8.9 L30.05 -12.24 L32.28 -14.47 L34.5 -15.58 L36.73 -15.58 L38.95 -14.47 L41.18 -12.24 L42.29 -8.9 L42.29 -6.68 L41.18 -3.34 L38.95 -1.11 L36.73 0 L34.5 0M36.73 -15.58 L40.07 -14.47 L42.29 -12.24 L43.41 -8.9 L43.41 -6.68 L42.29 -3.34 L40.07 -1.11 L36.73 0M48.97 -15.58 L52.31 -15.58 L52.31 0 L48.97 0M52.31 -15.58 L53.42 -15.58 L53.42 0 L52.31 0M53.42 0 L56.76 0M51.2 -22.26 L52.31 -23.37 L53.42 -22.26 L52.31 -21.15 L51.2 -22.26M62.33 -12.24 L62.33 -13.36 L63.44 -14.47 L65.67 -15.58 L70.12 -15.58 L72.34 -14.47 L73.46 -13.36 L74.57 -15.58 L74.57 -11.13 L73.46 -13.36M62.33 -12.24 L62.33 -11.13 L63.44 -10.02 L65.67 -8.9 L71.23 -6.68 L73.46 -5.56 L74.57 -4.45 L74.57 -5.56 L73.46 -6.68 L71.23 -7.79 L65.67 -10.02 L63.44 -11.13 L62.33 -12.24M63.44 -2.23 L62.33 -4.45 L62.33 0 L63.44 -2.23 L64.55 -1.11 L66.78 0 L71.23 0 L73.46 -1.11 L74.57 -2.23 L74.57 -4.45M82.36 -8.9 L82.36 -6.68 L83.47 -3.34 L85.7 -1.11 L87.93 0 L84.59 -1.11 L82.36 -3.34 L81.25 -6.68 L81.25 -8.9 L82.36 -12.24 L84.59 -14.47 L87.93 -15.58 L85.7 -14.47 L83.47 -12.24 L82.36 -8.9 L94.6 -8.9 L94.6 -12.24 L93.49 -14.47 L91.27 -15.58 L87.93 -15.58M87.93 0 L90.15 0 L93.49 -1.11 L95.72 -3.34M93.49 -14.47 L94.6 -13.36 L95.72 -11.13 L95.72 -8.9 L94.6 -8.9" stroke="#00ffff" stroke-width="1.15"/>
<path transform="translate(359.2 659.7) translate(0 0)" d="M2.23 -15.58 L5.56 -15.58 L5.56 -23.37M6.68 -23.37 L6.68 -15.58 L5.56 -15.58 L5.56 -4.45 L6.68 -1.11 L8.9 0 L7.79 -1.11 L6.68 -4.45 L6.68 -15.58 L11.13 -15.58M8.9 0 L11.13 0 L13.36 -1.11 L14.47 -3.34M26.71 -15.58 L23.37 -14.47 L21.15 -12.24 L20.03 -8.9 L20.03 -6.68 L21.15 -3.34 L23.37 -1.11 L26.71 0 L24.49 -1.11 L22.26 -3.34 L21.15 -6.68 L21.15 -8.9 L22.26 -12.24 L24.49 -14.47 L26.71 -15.58 L28.94 -15.58 L31.16 -14.47 L33.39 -12.24 L34.5 -8.9 L34.5 -6.68 L33.39 -3.34 L31.16 -1.11 L28.94 0 L26.71 0M28.94 -15.58 L32.28 -14.47 L34.5 -12.24 L35.62 -8.9 L35.62 -6.68 L34.5 -3.34 L32.28 -1.11 L28.94 0M41.18 -15.58 L44.52 -15.58 L44.52 -23.37M45.63 -23.37 L45.63 -15.58 L44.52 -15.58 L44.52 -4.45 L45.63 -1.11 L47.86 0 L46.75 -1.11 L45.63 -4.45 L45.63 -15.58 L50.08 -15.58M47.86 0 L50.08 0 L52.31 -1.11 L53.42 -3.34M63.44 -8.9 L60.1 -7.79 L58.99 -5.56 L58.99 -3.34 L60.1 -1.11 L63.44 0 L61.21 -1.11 L60.1 -3.34 L60.1 -5.56 L61.21 -7.79 L63.44 -8.9 L70.12 -10.02 L71.23 -11.13 L71.23 -13.36 L70.12 -14.47 L67.89 -15.58 L63.44 -15.58 L61.21 -14.47 L60.1 -13.36 L60.1 -12.24 L61.21 -12.24 L61.21 -13.36M63.44 0 L66.78 0 L69.01 -1.11 L71.23 -3.34 L71.23 -11.13M71.23 -13.36 L72.34 -11.13 L72.34 -3.34 L73.46 -1.11 L74.57 0 L72.34 -1.11 L71.23 -3.34M74.57 0 L75.68 0M80.14 -23.37 L83.47 -23.37 L83.47 0 L80.14 0M83.47 -23.37 L84.59 -23.37 L84.59 0 L83.47 0M84.59 0 L87.93 0" stroke="#0000ff" stroke-width="1.15"/>
<g clip-path="url(#c)" stroke-linecap="butt"><path d="M150 44.94 L152 45.22 L154 45.5 L156 45.77 L158 46.05 L160 46.33 L161.5 46.53M168.2 47.47 L170 47.72 L172 48.01 L174 48.3 L176 48.6 L178 48.9 L178.6 48.99M180.8 49.33 L182 49.51 L184 49.83 L186 50.16 L188 50.49 L190 50.84 L192 51.19 L194 51.55 L196 51.92 L198 52.3 L200 52.7 L202 53.1 L204 53.52 L206 53.96 L208 54.4 L210 54.86 L212 55.34 L214 55.83 L216 56.33 L218 56.86 L220 57.4 L222 57.96 L224 58.53 L226 59.13 L228 59.74 L230 60.38 L232 61.04 L234 61.71 L236 62.42 L238 63.14 L240 63.9 L242 64.68 L244 65.48 L246 66.32 L248 67.18 L250 68.08 L252 69 L254 69.96 L256 70.96 L258 71.99 L260 73.05 L262 74.15 L264 75.29 L266 76.47 L268 77.69 L270 78.95 L272 80.26 L274 81.6 L276 82.99 L278 84.43 L280 85.91 L282 87.45 L284 89.02 L286 90.65 L288 92.33 L290 94.07 L292 95.85 L294 97.69 L296 99.58 L298 101.54 L300 103.55 L302 105.63 L304 107.77 L306 109.99 L308 112.28 L310 114.65 L312 117.1 L313.9 118.44 L315.69 120.5 L316.67 122 L317.65 123.5 L318.61 125 L319.56 126.5 L320.51 128 L321.44 129.5 L322.37 131 L323.29 132.5 L324.2 134 L325.1 135.5 L325.99 137 L326.87 138.5 L327.74 140 L328.61 141.5 L329.47 143 L330.32 144.5 L331.16 146 L331.99 147.5 L332.82 149 L333.64 150.5 L334.44 152 L334.79 152.65M335.56 154.1 L336.04 155 L336.83 156.5 L337.61 158 L338.38 159.5 L339.14 161 L339.49 161.7M340.4 163.5 L340.65 164 L341.39 165.5 L342.13 167 L342.85 168.5 L343.58 170 L344.29 171.5 L344.43 171.8M345.79 174.7 L346.4 176 L347.09 177.5 L347.77 179 L348.44 180.5 L349.11 182 L349.73 183.4M351.77 188.1 L352.37 189.5 L353.01 191 L353.63 192.5 L354.26 194 L354.88 195.5 L355.49 197 L356.09 198.5 L356.25 198.9M358.66 205 L359.05 206 L359.63 207.5 L360.2 209 L360.77 210.5 L361.33 212 L361.89 213.5 L362.44 215 L362.99 216.5 L363.54 218 L364.08 219.5M366.37 226 L366.72 227 L367.24 228.5 L367.75 230 L368.26 231.5 L368.77 233 L369.28 234.5 L369.38 234.8M370.96 239.6 L371.25 240.5 L371.74 242 L372.22 243.5 L372.7 245 L373.18 246.5 L373.65 248 L374.12 249.5 L374.19 249.7M375.76 254.8 L375.97 255.5 L376.43 257 L376.88 258.5 L377.33 260 L377.77 261.5 L378.21 263 L378.65 264.5 L379.09 266 L379.52 267.5 L379.75 268.3M381.59 274.8 L381.64 275 L382.06 276.5 L382.47 278 L382.88 279.5 L383.29 281 L383.69 282.5 L384.09 284 L384.15 284.2M385.86 290.7 L386.06 291.5 L386.45 293 L386.83 294.5 L387.22 296 L387.59 297.5 L387.97 299 L388.35 300.5 L388.42 300.8M390.01 307.3 L390.18 308 L390.54 309.5 L390.9 311 L391.25 312.5 L391.6 314 L391.95 315.5 L392.3 317 L392.65 318.5 L392.99 320 L393.34 321.5 L393.68 323 L393.72 323.2M395.19 329.8 L395.35 330.5 L395.67 332 L396 333.5 L396.32 335 L396.65 336.5 L396.97 338 L397.29 339.5 L397.6 341M398.92 347.3 L399.16 348.5 L399.47 350 L399.77 351.5 L400.08 353 L400.38 354.5 L400.68 356 L400.98 357.5 L401.02 357.7M402.66 366.1 L402.74 366.5 L403.03 368 L403.31 369.5 L403.6 371 L403.88 372.5 L404.17 374 L404.45 375.5 L404.73 377M406.19 384.9 L406.39 386 L406.66 387.5 L406.93 389 L407.2 390.5 L407.47 392 L407.74 393.5 L408.01 395 L408.1 395.5M409.51 403.5 L409.6 404 L409.86 405.5 L410.12 407 L410.38 408.5 L410.64 410 L410.9 411.5 L411.16 413 L411.31 413.9M413.4 421.4 L414.49 432.6M415.59 440.9 L415.6 441 L417.8 451.5 L417.81 451.6M418.42 459.5 L419.8 470.6 L419.81 470.8M420.21 478.7 L421.69 489.6M422.38 497.8 L422.4 498.1 L424.25 508.6M424.6 517.1 L424.6 517.2 L427.47 527.6M428.82 535.2 L431.65 546.5M432.37 554.3 L432.4 554.6 L433.06 565.6M433.57 573.7 L433.6 574.2 L434.52 584.8M435.92 592.6 L436 593 L438.12 604.1M439.51 612 L439.6 612.5 L440.37 623.6M440.7 631.4 L443.36 645.8M444.86 652 L445.4 654.2 L448.7 664.5M450.13 672.8 L450.2 673.2 L453 683.5 L453.03 683.8M453.84 691.8 L456.2 703.3 L456.6 706" stroke="#00ffff" stroke-width="1.25"/></g>
</svg></body></html>
